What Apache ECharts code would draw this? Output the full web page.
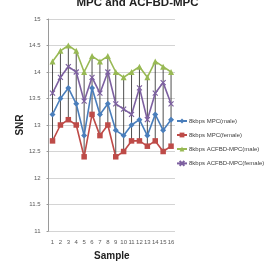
<!DOCTYPE html>
<html><head><meta charset="utf-8">
<script src="https://cdn.jsdelivr.net/npm/echarts@6/dist/echarts.min.js"></script>
<style>html,body{margin:0;padding:0;background:#fff}#c{width:275px;height:266px}</style>
</head><body><div id="c"></div>
<script>
const categories = ['1','2','3','4','5','6','7','8','9','10','11','12','13','14','15','16'];
const seriesNames = ['8kbps MPC(male)','8kbps MPC(female)','8kbps ACFBD-MPC(male)','8kbps ACFBD-MPC(female)'];
const mpcMale = [13.2,13.5,13.7,13.4,12.8,13.7,13.2,13.4,12.9,12.8,13.0,13.1,12.8,13.2,12.9,13.1];
const mpcFemale = [12.7,13.0,13.1,13.0,12.4,13.2,12.8,13.0,12.4,12.5,12.7,12.7,12.6,12.7,12.5,12.6];
const acfbdMale = [14.2,14.4,14.5,14.4,14.0,14.3,14.2,14.3,14.0,13.9,14.0,14.1,13.9,14.2,14.1,14.0];
const acfbdFemale = [13.6,13.9,14.1,14.0,13.45,13.9,13.6,14.0,13.4,13.3,13.2,13.7,13.1,13.6,13.8,13.4];
const yTicks = {min: 11, max: 15, interval: 0.5};

const all = [mpcMale, mpcFemale, acfbdMale, acfbdFemale];
const hiLo = categories.map((c, i) => {
  const vals = all.map(a => a[i]);
  return [i, Math.min(...vals), Math.max(...vals)];
});
const colors = ['#4a7ebb','#be4b48','#98b954','#7d60a0'];
const symbols = ['diamond','rect','triangle','path://M0,0L10,10M10,0L0,10'];
const sizes = [6,5.5,6,5];
const font = 'Liberation Sans';

const chart = echarts.init(document.getElementById('c'), null, {renderer:'canvas'});
const lineSeries = all.map((d, k) => ({
  name: seriesNames[k], type: 'line', data: d,
  symbol: symbols[k], symbolSize: sizes[k], showSymbol: true,
  lineStyle: {color: colors[k], width: 1.6},
  itemStyle: {color: colors[k], borderColor: colors[k], borderWidth: k === 3 ? 1.2 : 0},
  z: 3
}));
chart.setOption({
  animation: false,
  title: {text: 'MPC and ACFBD-MPC', left: 'center', top: -8,
    textStyle: {fontFamily: font, fontSize: 11.5, fontWeight: 'bold', color: '#222'}},
  legend: {
    orient: 'vertical', left: 176, top: 118, padding: 0, itemGap: 8, itemWidth: 10, itemHeight: 6,
    data: seriesNames,
    textStyle: {fontFamily: font, fontSize: 6, color: '#404040', padding: [0,0,0,-3]}
  },
  grid: {left: 30, right: 100, top: 19, bottom: 30, containLabel: false},
  xAxis: {
    type: 'category', data: categories, boundaryGap: true,
    name: 'Sample', nameLocation: 'middle', nameGap: 20,
    nameTextStyle: {fontFamily: font, fontSize: 10, fontWeight: 'bold', color: '#222'},
    axisLine: {show: false}, axisTick: {show: false},
    axisLabel: {fontFamily: font, fontSize: 6, color: '#595959', margin: 8, interval: 0}
  },
  yAxis: {
    type: 'value', min: yTicks.min, max: yTicks.max, interval: yTicks.interval,
    name: 'SNR', nameLocation: 'middle', nameGap: 22, nameRotate: 90,
    nameTextStyle: {fontFamily: font, fontSize: 10, fontWeight: 'bold', color: '#222'},
    axisLine: {show: true, lineStyle: {color: '#9a9a9a', width: 1}},
    axisTick: {show: true, length: 2, lineStyle: {color: '#9a9a9a'}},
    splitLine: {lineStyle: {color: '#d4d4d4', width: 1}},
    axisLabel: {fontFamily: font, fontSize: 6, color: '#595959', margin: 8}
  },
  series: [{
    type: 'custom', data: hiLo, z: 1, silent: true,
    renderItem: function (params, api) {
      const p1 = api.coord([api.value(0), api.value(1)]);
      const p2 = api.coord([api.value(0), api.value(2)]);
      return {type: 'line', shape: {x1: p1[0], y1: p1[1], x2: p2[0], y2: p2[1]},
        style: {stroke: '#222', lineWidth: 0.8}};
    }
  }].concat(lineSeries)
});
</script></body></html>
